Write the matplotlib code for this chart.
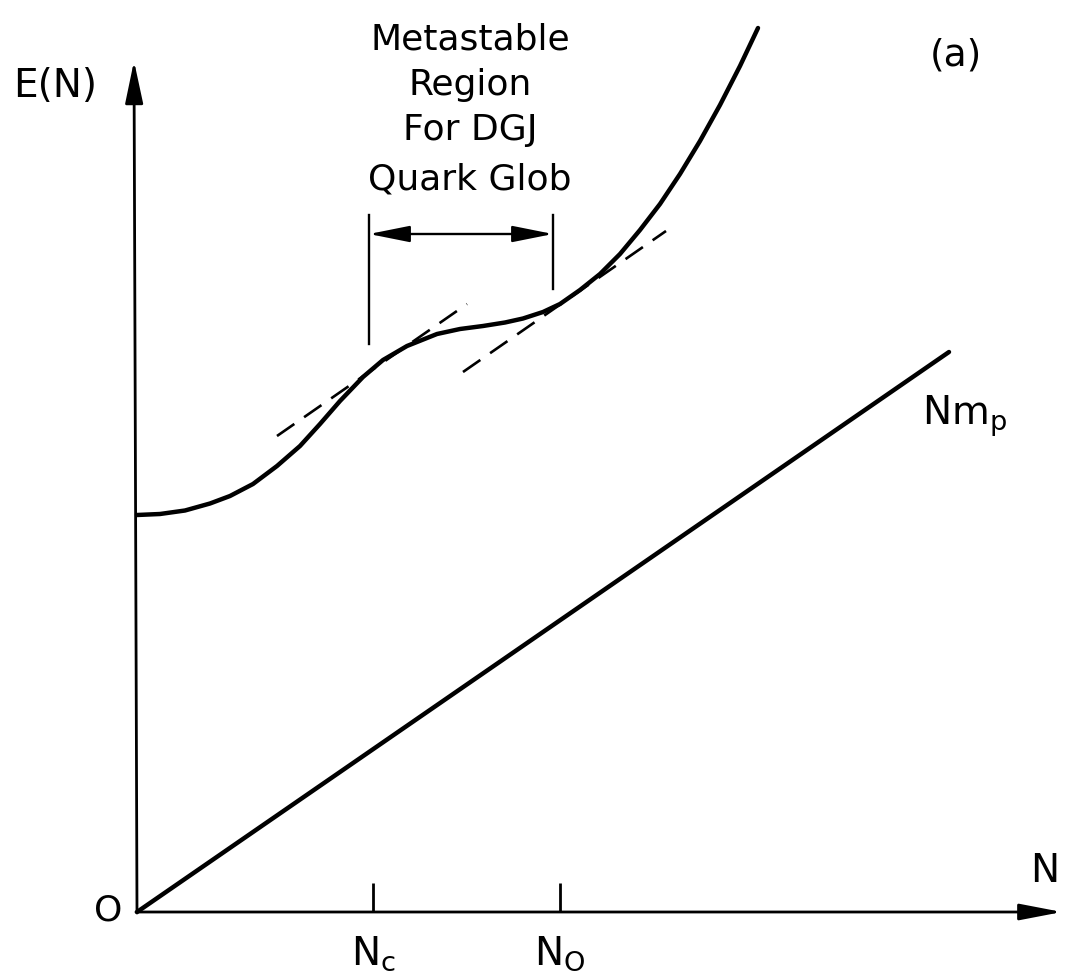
import matplotlib
matplotlib.use('Agg')
import matplotlib.pyplot as plt
import numpy as np

# E(N) curve (N, E) in arbitrary units
curve_n = [0.00, 0.23, 0.48, 0.73, 0.93, 1.16, 1.40, 1.63, 1.83, 2.03,
           2.26, 2.46, 2.70, 3.00, 3.23, 3.46, 3.68, 3.86, 4.06, 4.23,
           4.43, 4.63, 4.83, 5.03, 5.23, 5.43, 5.63, 5.83, 6.03, 6.21]
curve_e = [3.97, 3.98, 4.015, 4.085, 4.16, 4.28, 4.46, 4.66, 4.88, 5.11,
           5.35, 5.52, 5.66, 5.78, 5.83, 5.86, 5.895, 5.935, 6.00, 6.08,
           6.22, 6.38, 6.58, 6.82, 7.08, 7.38, 7.71, 8.07, 8.46, 8.84]

# N m_p straight line
mp_n = [0.0, 8.12]
mp_e = [0.0, 5.60]

# dashed tangents
tan1_n = [1.40, 3.30]
tan1_e = [4.76, 6.08]
tan2_n = [3.26, 5.29]
tan2_e = [5.40, 6.81]

# metastable region bounds
n_c = 2.32
n_o = 4.16
region_top = 6.97
region_bot = [5.68, 6.23]
region_arrow = 6.78

# axis tick marks
tick_n = [2.36, 4.23]
tick_labels = [r'$\mathrm{N_c}$', r'$\mathrm{N_O}$']

x_end = 9.25
y_end = 8.51

fig = plt.figure(figsize=(10.67, 9.79), dpi=100)
ax = fig.add_axes([0, 0, 1, 1])
ax.set_xlim(-1.37, 9.30)
ax.set_ylim(-0.66, 9.13)
ax.axis('off')

k = 'black'

# axes with arrows
ax.annotate('', xy=(x_end, 0), xytext=(-0.01, 0),
            arrowprops=dict(arrowstyle='-|>,head_length=26,head_width=5',
                            mutation_scale=1, lw=2, color=k,
                            shrinkA=0, shrinkB=0))
ax.annotate('', xy=(-0.03, y_end), xytext=(0, -0.01),
            arrowprops=dict(arrowstyle='-|>,head_length=26,head_width=5.5',
                            mutation_scale=1, lw=2, color=k,
                            shrinkA=0, shrinkB=0))

# ticks
for t, lab in zip(tick_n, tick_labels):
    ax.plot([t, t], [0, 0.29], color=k, lw=2, solid_capstyle='butt')
    ax.text(t, -0.52, lab, fontsize=28, ha='center', va='baseline')

# curves
ax.plot(mp_n, mp_e, color=k, lw=3.2, solid_capstyle='round')
ax.plot(curve_n, curve_e, color=k, lw=3.2, solid_capstyle='round',
        solid_joinstyle='round')
ax.plot(tan1_n, tan1_e, color=k, lw=1.9, dashes=(8, 4.5))
ax.plot(tan2_n, tan2_e, color=k, lw=1.9, dashes=(8, 4.5))

# metastable region marker
ax.plot([n_c, n_c], [region_bot[0], region_top], color=k, lw=1.7)
ax.plot([n_o, n_o], [region_bot[1], region_top], color=k, lw=1.7)
ax.annotate('', xy=(n_o, region_arrow), xytext=(n_c, region_arrow),
            arrowprops=dict(arrowstyle='<|-|>,head_length=25,head_width=5',
                            mutation_scale=1, lw=1.7, color=k,
                            shrinkA=0, shrinkB=0))

# labels
region_lines = ['Metastable', 'Region', 'For DGJ', 'Quark Glob']
region_base = [8.64, 8.18, 7.73, 7.23]
for txt, yb in zip(region_lines, region_base):
    ax.text(3.33, yb, txt, fontsize=26, ha='center', va='baseline')

ax.text(-1.24, 8.16, 'E(N)', fontsize=28, ha='left', va='baseline')
ax.text(8.19, 8.58, '(a)', fontsize=27, ha='center', va='center')
ax.text(7.85, 4.88, r'$\mathrm{Nm_p}$', fontsize=28, ha='left', va='baseline')
ax.text(9.08, 0.42, 'N', fontsize=28, ha='center', va='center')
ax.text(-0.29, 0.02, 'O', fontsize=26, ha='center', va='center')

fig.savefig('out.png', dpi=100, facecolor='white')
